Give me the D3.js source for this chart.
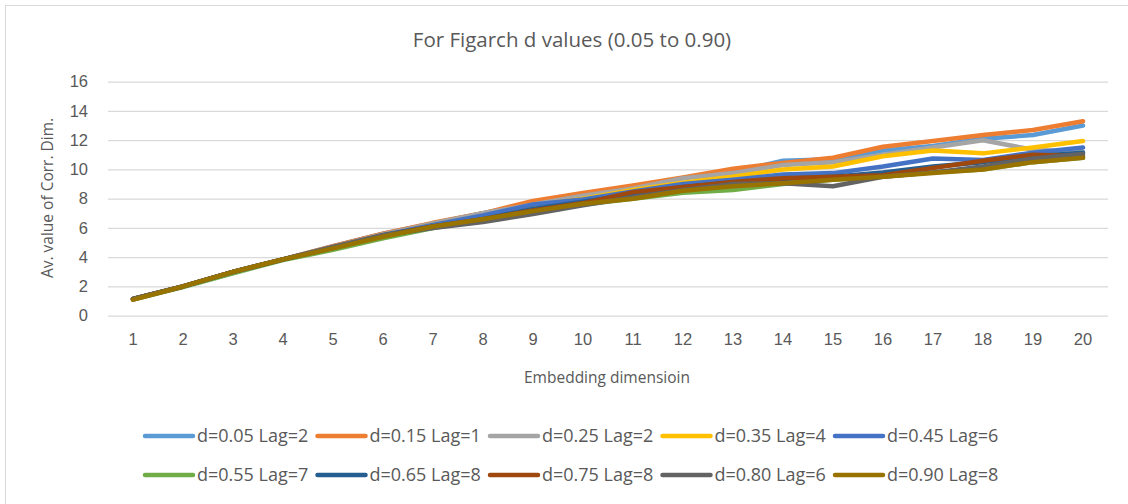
<!DOCTYPE html>
<html><head><meta charset="utf-8">
<script src="https://cdn.jsdelivr.net/npm/d3@7"></script>
<style>
html,body{margin:0;padding:0;background:#fff;}
svg{display:block;font-family:"Open Sans","Noto Sans",sans-serif;}
</style></head>
<body><svg id="c" width="1128" height="504"></svg>
<script>
const categories = [1,2,3,4,5,6,7,8,9,10,11,12,13,14,15,16,17,18,19,20];
const yTicks = [0,2,4,6,8,10,12,14,16];
const seriesNames = ["d=0.05 Lag=2","d=0.15 Lag=1","d=0.25 Lag=2","d=0.35 Lag=4","d=0.45 Lag=6","d=0.55 Lag=7","d=0.65 Lag=8","d=0.75 Lag=8","d=0.80 Lag=6","d=0.90 Lag=8"];
const colors = ["#5B9BD5","#ED7D31","#A5A5A5","#FFC000","#4472C4","#70AD47","#255E91","#9E480E","#636363","#997300"];
const d005 = [1.15,2.0,3.0,3.85,4.75,5.6,6.3,7.0,7.7,8.2,8.75,9.4,9.8,10.6,10.7,11.3,11.6,12.1,12.35,13.0];
const d015 = [1.1,2.0,3.0,3.85,4.75,5.6,6.35,7.0,7.85,8.4,8.9,9.45,10.05,10.45,10.8,11.55,11.95,12.35,12.7,13.3];
const d025 = [1.15,2.0,3.0,3.85,4.7,5.55,6.3,7.0,7.6,8.2,8.7,9.4,9.75,10.3,10.5,11.0,11.5,12.0,11.35,11.2];
const d035 = [1.15,2.0,3.0,3.85,4.65,5.5,6.2,6.8,7.5,8.0,8.6,9.1,9.5,10.0,10.2,10.9,11.3,11.1,11.5,11.95];
const d045 = [1.15,2.0,3.0,3.85,4.65,5.5,6.2,6.85,7.6,7.95,8.5,9.0,9.3,9.65,9.75,10.2,10.75,10.65,11.15,11.5];
const d055 = [1.1,1.95,2.9,3.8,4.5,5.3,6.0,6.6,7.1,7.6,8.0,8.4,8.6,9.0,9.3,9.5,9.8,10.0,10.5,10.8];
const d065 = [1.15,2.0,3.0,3.85,4.65,5.5,6.1,6.6,7.3,7.8,8.3,8.8,9.1,9.35,9.5,9.8,10.2,10.5,10.9,11.15];
const d075 = [1.15,2.0,3.0,3.85,4.65,5.45,6.1,6.6,7.2,7.7,8.45,8.8,9.15,9.4,9.5,9.6,10.1,10.6,11.0,10.9];
const d080 = [1.15,2.0,3.0,3.85,4.7,5.5,6.0,6.4,6.95,7.55,8.1,8.6,9.0,9.05,8.85,9.5,9.8,10.2,10.75,11.05];
const d090 = [1.1,2.0,3.0,3.85,4.6,5.4,6.1,6.6,7.15,7.65,8.0,8.55,8.85,9.05,9.3,9.5,9.75,10.0,10.5,10.8];
const seriesValues = [d005,d015,d025,d035,d045,d055,d065,d075,d080,d090];

const svg = d3.select("#c");
svg.append("rect").attr("x",5.5).attr("y",5.5).attr("width",1200).attr("height",600)
  .attr("fill","#fff").attr("stroke","#D9D9D9").attr("stroke-width",1);

const x = d3.scaleBand().domain(categories).range([108,1108]).padding(0);
const y = d3.scaleLinear().domain([0,16]).range([315.7,81.7]);

const yAxis = d3.axisLeft(y).tickValues(yTicks).tickSize(-1000).tickPadding(20);
const gy = svg.append("g").attr("transform","translate(108,0)").call(yAxis);
gy.select(".domain").remove();
gy.selectAll(".tick line").attr("stroke","#D9D9D9").attr("stroke-width",1.2);
gy.selectAll(".tick text").attr("fill","#595959").style("font-size","16.5px").attr("x",-20);

const xAxis = d3.axisBottom(x).tickSize(0).tickPadding(18);
const gx = svg.append("g").attr("transform","translate(0,315.7)").call(xAxis);
gx.select(".domain").remove();
gx.selectAll(".tick text").attr("fill","#595959").style("font-size","16.5px");

const line = d3.line().x((v,i)=>x(categories[i])+x.bandwidth()/2).y(v=>y(v));
svg.append("g").selectAll("path").data(seriesValues).join("path")
  .attr("d",line).attr("fill","none")
  .attr("stroke",(d,i)=>colors[i]).attr("stroke-width",4.5)
  .attr("stroke-linecap","round").attr("stroke-linejoin","round");

svg.append("text").attr("x",572).attr("y",47).attr("text-anchor","middle")
  .attr("fill","#595959").style("font-size","20.5px").text("For Figarch d values (0.05 to 0.90)");
svg.append("text").attr("x",607).attr("y",383).attr("text-anchor","middle")
  .attr("fill","#595959").style("font-size","15.5px").text("Embedding dimensioin");
svg.append("text").attr("transform","translate(53,198) rotate(-90)").attr("text-anchor","middle")
  .attr("fill","#595959").style("font-size","15.5px").text("Av. value of Corr. Dim.");

const lg = svg.append("g");
seriesNames.forEach((n,i)=>{
  const col = i%5, row = Math.floor(i/5);
  const lx = 145 + col*172.5, ly = 436 + row*39;
  lg.append("line").attr("x1",lx).attr("x2",lx+48).attr("y1",ly).attr("y2",ly)
    .attr("stroke",colors[i]).attr("stroke-width",4.5).attr("stroke-linecap","round");
  lg.append("text").attr("x",lx+52).attr("y",ly).attr("dy","0.35em")
    .attr("fill","#595959").style("font-size","18px").text(n);
});
</script></body></html>
